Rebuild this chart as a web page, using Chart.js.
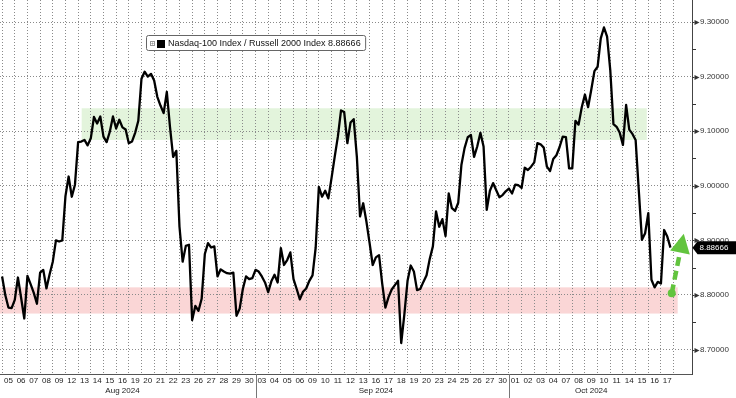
<!DOCTYPE html>
<html>
<head>
<meta charset="utf-8">
<title>Nasdaq-100 / Russell 2000</title>
<script src="https://cdn.jsdelivr.net/npm/chart.js@4.4.1/dist/chart.umd.min.js"></script>
<style>
  html, body { margin: 0; padding: 0; background: #fff; }
  #chart { display: block; }
</style>
</head>
<body>
<canvas id="chart" width="736" height="398"></canvas>
<script>
// trading days shown on the axis
const days = [
  "05", "06", "07", "08", "09", "12", "13", "14", "15", "16",
  "19", "20", "21", "22", "23", "26", "27", "28", "29", "30",
  "03", "04", "05", "06", "09", "10", "11", "12", "13", "16",
  "17", "18", "19", "20", "23", "24", "25", "26", "27", "30",
  "01", "02", "03", "04", "07", "08", "09", "10", "11", "14",
  "15", "16", "17",
];
const months = ["Aug 2024", "Sep 2024", "Oct 2024"];
const monthStart = [0, 20, 40];

// Nasdaq-100 / Russell 2000 ratio, 4 readings per trading day
const ratio = [
  8.834, 8.800, 8.777, 8.776,  8.791, 8.832, 8.795, 8.757,
  8.835, 8.820, 8.804, 8.784,  8.841, 8.846, 8.812, 8.838,
  8.861, 8.900, 8.898, 8.900,  8.981, 9.017, 8.980, 9.002,
  9.080, 9.081, 9.084, 9.074,  9.087, 9.126, 9.114, 9.127,
  9.090, 9.080, 9.099, 9.127,  9.105, 9.121, 9.107, 9.103,
  9.078, 9.081, 9.097, 9.119,  9.196, 9.209, 9.200, 9.205,
  9.193, 9.163, 9.147, 9.133,  9.172, 9.108, 9.053, 9.064,
  8.925, 8.861, 8.890, 8.892,  8.754, 8.780, 8.771, 8.793,
  8.875, 8.895, 8.887, 8.889,  8.834, 8.847, 8.843, 8.840,
  8.839, 8.841, 8.762, 8.775,  8.811, 8.834, 8.829, 8.831,
  8.846, 8.843, 8.834, 8.823,  8.805, 8.825, 8.837, 8.823,
  8.886, 8.855, 8.864, 8.878,  8.829, 8.811, 8.792, 8.806,
  8.812, 8.826, 8.836, 8.887,  8.998, 8.980, 8.991, 8.977,
  9.014, 9.053, 9.090, 9.138,  9.135, 9.078, 9.116, 9.122,
  9.053, 8.944, 8.968, 8.935,  8.896, 8.855, 8.869, 8.873,
  8.821, 8.777, 8.796, 8.810,  8.818, 8.826, 8.712, 8.765,
  8.826, 8.854, 8.843, 8.809,  8.811, 8.824, 8.836, 8.866,
  8.889, 8.953, 8.925, 8.939,  8.908, 8.986, 8.959, 8.954,
  8.969, 9.038, 9.069, 9.089,  9.093, 9.053, 9.072, 9.097,
  9.072, 8.956, 8.991, 9.005,  8.992, 8.979, 8.983, 8.990,
  8.995, 8.986, 9.002, 9.001,  8.996, 9.033, 9.029, 9.035,
  9.043, 9.078, 9.076, 9.070,  9.035, 9.027, 9.049, 9.056,
  9.071, 9.090, 9.089, 9.032,  9.032, 9.119, 9.112, 9.144,
  9.167, 9.144, 9.176, 9.210,  9.218, 9.270, 9.290, 9.273,
  9.212, 9.113, 9.108, 9.097,  9.075, 9.148, 9.103, 9.095,
  9.084, 8.992, 8.901, 8.913,  8.950, 8.828, 8.814, 8.824,
  8.821, 8.919, 8.907, 8.88666,
];
const seriesName = "Nasdaq-100 Index / Russell 2000 Index";
const lastValue = 8.88666;

const yTicks = [8.7, 8.75, 8.8, 8.85, 8.9, 8.95, 9.0, 9.05, 9.1, 9.15, 9.2, 9.25, 9.3];

// shaded zones and the arrow, in day / ratio units
const greenBand = [9.084, 9.142];
const greenBandDays = [6.28, 50.88];
const redBand = [8.766, 8.814];
const redBandDays = [-0.2, 53.32];
const arrowFrom = [52.85, 8.803];
const arrowTo = [53.8, 8.912];

const FONT = "'Liberation Sans', Arial, sans-serif";
Chart.defaults.font.family = FONT;

const isMajor = (v) => Math.abs(v * 10 - Math.round(v * 10)) < 1e-6;

const decor = {
  id: "decor",
  beforeDraw(chart) {
    const { ctx, chartArea: a, scales: { x, y } } = chart;
    ctx.save();
    ctx.fillStyle = "#fff";
    ctx.fillRect(0, 0, chart.width, chart.height);
    const band = (days, vals, color) => {
      const x1 = Math.max(a.left, x.getPixelForValue(days[0]));
      const x2 = x.getPixelForValue(days[1]);
      const y1 = y.getPixelForValue(vals[1]);
      const y2 = y.getPixelForValue(vals[0]);
      ctx.fillStyle = color;
      ctx.fillRect(x1, y1, x2 - x1, y2 - y1);
    };
    band(greenBandDays, greenBand, "#e3f4dc");
    band(redBandDays, redBand, "#fad6d6");
    ctx.restore();
  },
  afterDraw(chart) {
    const { ctx, chartArea: a, scales: { x, y } } = chart;
    ctx.save();

    // right axis tick marks
    ctx.fillStyle = "#333";
    ctx.strokeStyle = "#333";
    ctx.lineWidth = 1;
    yTicks.forEach((v) => {
      const py = Math.round(y.getPixelForValue(v)) + 0.5;
      ctx.beginPath();
      if (isMajor(v)) {
        ctx.moveTo(a.right, py);
        ctx.lineTo(a.right + 2, py);
        ctx.stroke();
        ctx.beginPath();
        ctx.moveTo(a.right + 2, py - 2.5);
        ctx.lineTo(a.right + 7, py);
        ctx.lineTo(a.right + 2, py + 2.5);
        ctx.closePath();
        ctx.fill();
      } else {
        ctx.moveTo(a.right, py);
        ctx.lineTo(a.right + 3.5, py);
        ctx.stroke();
      }
    });

    // month separators and labels
    ctx.strokeStyle = "#777";
    ctx.fillStyle = "#222";
    ctx.font = "8px " + FONT;
    ctx.textAlign = "center";
    ctx.textBaseline = "middle";
    months.forEach((m, i) => {
      const start = monthStart[i];
      const end = i + 1 < monthStart.length ? monthStart[i + 1] - 1 : days.length - 1;
      if (i > 0) {
        const px = Math.round(x.getPixelForValue(start)) + 0.5;
        ctx.beginPath();
        ctx.moveTo(px, a.bottom);
        ctx.lineTo(px, chart.height);
        ctx.stroke();
      }
      const mid = Math.floor((start + end) / 2) + 0.5;
      ctx.fillText(m, x.getPixelForValue(mid), 390.5);
    });

    // green dashed arrow
    const p0 = { x: x.getPixelForValue(arrowFrom[0]), y: y.getPixelForValue(arrowFrom[1]) };
    const p1 = { x: x.getPixelForValue(arrowTo[0]), y: y.getPixelForValue(arrowTo[1]) };
    const ang = Math.atan2(p1.y - p0.y, p1.x - p0.x);
    const headLen = 19, headHalf = 10;
    const bx = p1.x - headLen * Math.cos(ang);
    const by = p1.y - headLen * Math.sin(ang);
    ctx.strokeStyle = "#62c43e";
    ctx.fillStyle = "#62c43e";
    ctx.lineWidth = 4.5;
    ctx.setLineDash([9, 5]);
    ctx.beginPath();
    ctx.moveTo(p0.x, p0.y);
    ctx.lineTo(bx, by);
    ctx.stroke();
    ctx.setLineDash([]);
    ctx.beginPath();
    ctx.arc(p0.x, p0.y, 4, 0, Math.PI * 2);
    ctx.fill();
    ctx.beginPath();
    ctx.moveTo(p1.x, p1.y);
    ctx.lineTo(bx + headHalf * Math.sin(ang), by - headHalf * Math.cos(ang));
    ctx.lineTo(bx - headHalf * Math.sin(ang), by + headHalf * Math.cos(ang));
    ctx.closePath();
    ctx.fill();

    // legend box
    const label = seriesName + " " + lastValue.toFixed(5);
    ctx.font = "9px " + FONT;
    const tw = ctx.measureText(label).width;
    const lx = 146.5, ly = 35.5, lh = 15;
    const lw = 168 - lx + tw + 5;
    ctx.fillStyle = "#fff";
    ctx.strokeStyle = "#666";
    ctx.lineWidth = 1;
    ctx.beginPath();
    ctx.roundRect(lx, ly, lw, lh, 2);
    ctx.fill();
    ctx.stroke();
    ctx.strokeStyle = "#999";
    ctx.strokeRect(150.5, 41.5, 4, 4);
    ctx.beginPath();
    ctx.moveTo(151.5, 43.5); ctx.lineTo(153.5, 43.5);
    ctx.moveTo(152.5, 42.5); ctx.lineTo(152.5, 44.5);
    ctx.stroke();
    ctx.fillStyle = "#000";
    ctx.fillRect(157, 40, 8, 8);
    ctx.fillStyle = "#111";
    ctx.textAlign = "left";
    ctx.textBaseline = "middle";
    ctx.fillText(label, 168, ly + lh / 2 + 0.5);

    // last value tag on the right axis
    const ty = y.getPixelForValue(lastValue);
    ctx.fillStyle = "#000";
    ctx.beginPath();
    ctx.moveTo(a.right, ty);
    ctx.lineTo(a.right + 5, ty - 6.5);
    ctx.lineTo(chart.width, ty - 6.5);
    ctx.lineTo(chart.width, ty + 6.5);
    ctx.lineTo(a.right + 5, ty + 6.5);
    ctx.closePath();
    ctx.fill();
    ctx.fillStyle = "#fff";
    ctx.font = "8px " + FONT;
    ctx.fillText(lastValue.toFixed(5), a.right + 7, ty + 0.5);

    ctx.restore();
  },
};

const xMin = -0.166;
const xMax = 54.49;

new Chart(document.getElementById("chart"), {
  type: "line",
  data: {
    datasets: [
      {
        label: seriesName,
        data: ratio.map((v, k) => ({ x: k / 4, y: v })),
        borderColor: "#000",
        borderWidth: 2.3,
        borderJoinStyle: "round",
        pointRadius: 0,
        tension: 0,
        fill: false,
      },
    ],
  },
  options: {
    responsive: false,
    animation: false,
    events: [],
    layout: { padding: 0 },
    plugins: { legend: { display: false }, tooltip: { enabled: false } },
    scales: {
      x: {
        type: "linear",
        position: "bottom",
        min: xMin,
        max: xMax,
        grid: { display: false, drawTicks: false },
        border: { display: true, color: "#555", width: 1 },
        ticks: {
          autoSkip: false,
          maxRotation: 0,
          padding: 1.5,
          color: "#222",
          font: { size: 8 },
          callback: (v, i) => days[i],
        },
        afterBuildTicks: (scale) => {
          scale.ticks = days.map((d, i) => ({ value: i + 0.5 }));
        },
        afterFit: (scale) => {
          scale.height = 24;
          scale.paddingLeft = 0;
          scale.paddingRight = 0;
        },
      },
      xg: {
        type: "linear",
        position: "bottom",
        min: xMin,
        max: xMax,
        grid: { color: "#8a8a8a", lineWidth: 1, drawTicks: false },
        border: { display: false, dash: [1, 2] },
        ticks: { display: false },
        afterBuildTicks: (scale) => {
          scale.ticks = days.concat([""]).map((d, i) => ({ value: i }));
        },
        afterFit: (scale) => {
          scale.height = 0;
          scale.paddingLeft = 0;
          scale.paddingRight = 0;
        },
      },
      y: {
        type: "linear",
        position: "right",
        min: 8.6553,
        max: 9.3403,
        grid: {
          drawTicks: false,
          lineWidth: 1,
          color: (c) => (c.tick && isMajor(c.tick.value) ? "#8a8a8a" : "rgba(0,0,0,0)"),
        },
        border: { display: true, color: "#444", width: 1, dash: [1, 2] },
        ticks: {
          padding: 7.5,
          color: "#333",
          font: { size: 8 },
          callback: (v) => (isMajor(v) ? v.toFixed(5) : ""),
        },
        afterBuildTicks: (scale) => {
          scale.ticks = yTicks.map((v) => ({ value: v }));
        },
        afterFit: (scale) => {
          scale.width = 43.5;
          scale.paddingTop = 0;
          scale.paddingBottom = 0;
        },
      },
    },
  },
  plugins: [decor],
});
</script>
</body>
</html>
